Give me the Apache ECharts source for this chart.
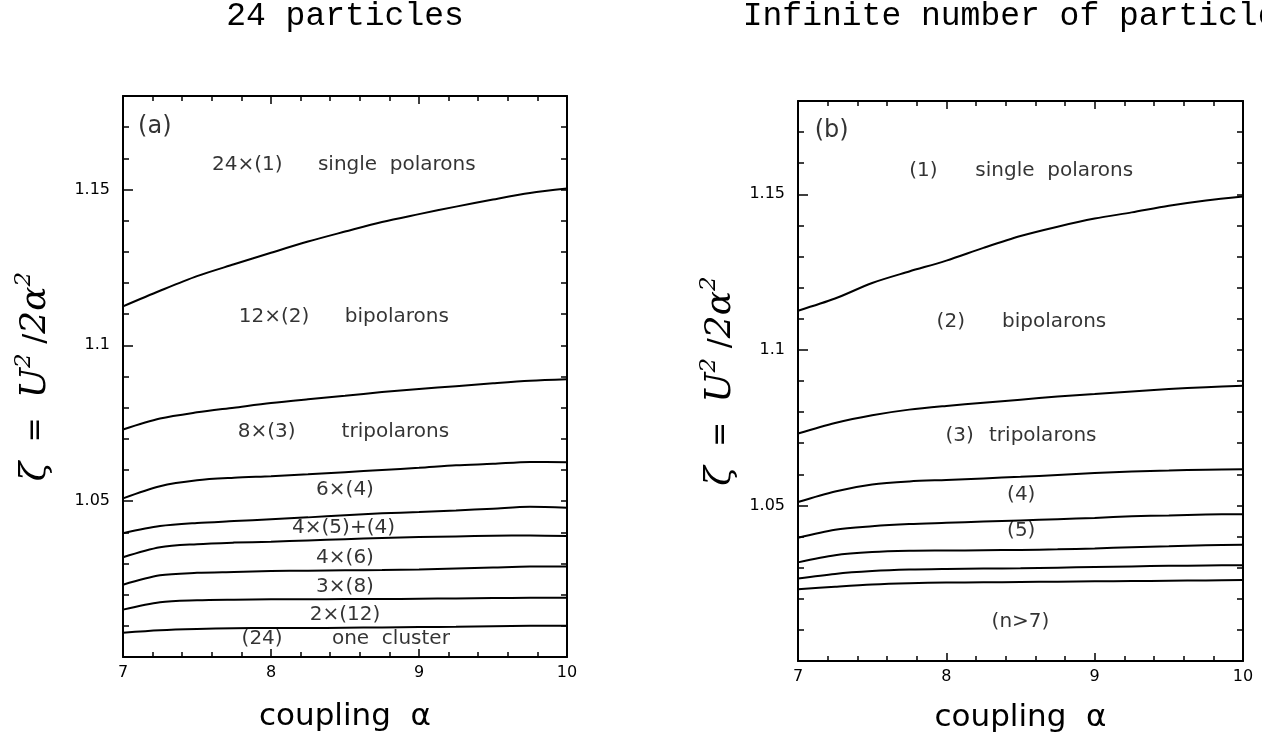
<!DOCTYPE html>
<html>
<head>
<meta charset="utf-8">
<title>polaron clusters</title>
<script src="https://cdn.jsdelivr.net/npm/echarts@6.0.0/dist/echarts.min.js"></script>
<style>
  html, body { margin: 0; padding: 0; background: #fff; }
  #main { width: 1262px; height: 742px; }
</style>
</head>
<body>
<div id="main"></div>
<script>
// coupling alpha, shared by every boundary curve
const alpha = [7, 7.25, 7.5, 7.75, 8, 8.25, 8.5, 8.75, 9, 9.25, 9.5, 9.75, 10];

// (a) 24 particles: phase boundaries, top to bottom
const a1 = [1.1125, 1.1175, 1.1222, 1.1260, 1.1297, 1.1333, 1.1365, 1.1396, 1.1421, 1.1445, 1.1468, 1.1489, 1.1503];
const a2 = [1.0730, 1.0765, 1.0785, 1.0800, 1.0815, 1.0827, 1.0838, 1.0850, 1.0860, 1.0869, 1.0878, 1.0886, 1.0891];
const a3 = [1.0509, 1.0548, 1.0567, 1.0575, 1.0580, 1.0586, 1.0593, 1.0600, 1.0607, 1.0615, 1.0620, 1.0626, 1.0625];
const a4 = [1.0397, 1.0420, 1.0430, 1.0436, 1.0442, 1.0448, 1.0455, 1.0461, 1.0465, 1.0470, 1.0476, 1.0482, 1.0479];
const a5 = [1.0320, 1.0352, 1.0362, 1.0367, 1.0370, 1.0374, 1.0378, 1.0382, 1.0385, 1.0387, 1.0389, 1.0390, 1.0388];
const a6 = [1.0232, 1.0262, 1.0270, 1.0273, 1.0276, 1.0277, 1.0278, 1.0279, 1.0281, 1.0284, 1.0287, 1.0290, 1.0290];
const a7 = [1.0152, 1.0176, 1.0182, 1.0184, 1.0185, 1.0185, 1.0186, 1.0186, 1.0187, 1.0188, 1.0189, 1.0190, 1.0190];
const a8 = [1.0078, 1.0086, 1.0090, 1.0092, 1.0093, 1.0093, 1.0094, 1.0095, 1.0096, 1.0097, 1.0099, 1.0100, 1.0100];

// (b) infinite number of particles
const b1 = [1.1126, 1.1165, 1.1215, 1.1252, 1.1287, 1.1328, 1.1366, 1.1396, 1.1422, 1.1442, 1.1463, 1.1480, 1.1493];
const b2 = [1.0731, 1.0765, 1.0790, 1.0808, 1.0820, 1.0830, 1.0840, 1.0850, 1.0858, 1.0866, 1.0874, 1.0880, 1.0885];
const b3 = [1.0511, 1.0545, 1.0567, 1.0577, 1.0582, 1.0587, 1.0592, 1.0598, 1.0604, 1.0609, 1.0612, 1.0615, 1.0616];
const b4 = [1.0396, 1.0422, 1.0433, 1.0440, 1.0444, 1.0448, 1.0452, 1.0456, 1.0460, 1.0465, 1.0468, 1.0471, 1.0472];
const b5 = [1.0317, 1.0340, 1.0350, 1.0354, 1.0355, 1.0356, 1.0357, 1.0359, 1.0362, 1.0366, 1.0369, 1.0372, 1.0374];
const b6 = [1.0265, 1.0280, 1.0289, 1.0294, 1.0296, 1.0297, 1.0298, 1.0300, 1.0302, 1.0304, 1.0306, 1.0307, 1.0308];
const b7 = [1.0231, 1.0239, 1.0246, 1.0250, 1.0252, 1.0253, 1.0254, 1.0255, 1.0256, 1.0257, 1.0258, 1.0259, 1.0260];

// region names: [text, alpha, zeta]
const labelsA = [
    ['(a)', 7.215, 1.170],
    ['24×(1)', 7.84, 1.1578], ['single  polarons', 8.85, 1.1578],
    ['12×(2)', 8.02, 1.1092], ['bipolarons', 8.85, 1.1092],
    ['8×(3)', 7.97, 1.0723], ['tripolarons', 8.84, 1.0723],
    ['6×(4)', 8.5, 1.0536],
    ['4×(5)+(4)', 8.49, 1.0413],
    ['4×(6)', 8.5, 1.0317],
    ['3×(8)', 8.5, 1.0226],
    ['2×(12)', 8.5, 1.0135],
    ['(24)', 7.94, 1.0060], ['one  cluster', 8.81, 1.0060]
];
const labelsB = [
    ['(b)', 7.227, 1.1704],
    ['(1)', 7.845, 1.1575], ['single  polarons', 8.727, 1.1575],
    ['(2)', 8.03, 1.1089], ['bipolarons', 8.727, 1.1089],
    ['(3)', 8.09, 1.0725], ['tripolarons', 8.65, 1.0725],
    ['(4)', 8.505, 1.0533],
    ['(5)', 8.505, 1.0420],
    ['(n>7)', 8.50, 1.0126]
];

const xTicks = [7, 8, 9, 10];
const yTicks = [1.05, 1.1, 1.15];
const titles = ['24 particles', 'Infinite number of particles'];

const chart = echarts.init(document.getElementById('main'));

const yName = '{i|ζ}{r|  =  }{i|U}{s|2}{r| /}{i|2α}{s|2}';
const yNameStyle = {
    fontFamily: 'DejaVu Serif',
    rich: {
        i: { fontFamily: 'DejaVu Serif', fontStyle: 'italic', fontSize: 36, lineHeight: 46, color: '#000' },
        r: { fontFamily: 'DejaVu Sans', fontSize: 30, lineHeight: 46, color: '#000' },
        s: { fontFamily: 'DejaVu Serif', fontStyle: 'italic', fontSize: 23, lineHeight: 26, verticalAlign: 'top', color: '#000' }
    }
};

const black = { color: '#000', width: 1.5 };

function xAx(grid, top) {
    return {
        type: 'value', gridIndex: grid, position: top ? 'top' : 'bottom',
        min: 7, max: 10, interval: 1,
        name: top ? '' : 'coupling  α',
        nameLocation: 'middle', nameGap: grid === 0 ? 44 : 41,
        nameTextStyle: { fontFamily: 'DejaVu Sans', fontSize: 31, color: '#000' },
        axisLine: { show: true, onZero: false, lineStyle: { color: '#000', width: 2 } },
        axisTick: { show: true, inside: true, length: 8, lineStyle: black },
        minorTick: { show: true, splitNumber: 5, length: 5, lineStyle: black },
        axisLabel: {
            show: !top, margin: 8, fontFamily: 'DejaVu Sans', fontSize: 16, color: '#000',
            formatter: v => xTicks.indexOf(v) >= 0 ? String(v) : ''
        },
        splitLine: { show: false }
    };
}

// kind: 'main' = labelled ticks every 0.05, 'minor' = short ticks every 0.01, 'right' = mirrored box side
function yAx(grid, kind) {
    const main = kind === 'main';
    return {
        type: 'value', gridIndex: grid, position: kind === 'right' ? 'right' : 'left',
        min: 1.0, max: 1.18, interval: main ? 0.05 : 0.01,
        name: main ? yName : '',
        nameLocation: 'middle', nameRotate: 90, nameGap: grid === 0 ? 64 : 54,
        nameTextStyle: yNameStyle,
        axisLine: { show: kind !== 'minor', onZero: false, lineStyle: { color: '#000', width: 2 } },
        axisTick: { show: true, inside: true, length: main ? 10 : 6, lineStyle: black },
        axisLabel: {
            show: main, margin: 13, fontFamily: 'DejaVu Sans', fontSize: 16, color: '#000',
            formatter: v => {
                const k = yTicks.find(t => Math.abs(t - v) < 1e-6);
                return k === undefined ? '' : String(k);
            }
        },
        splitLine: { show: false }
    };
}

function curve(grid, ys) {
    return {
        type: 'line', xAxisIndex: grid * 2, yAxisIndex: grid * 3,
        data: alpha.map((a, i) => [a, ys[i]]),
        showSymbol: false, symbol: 'none', smooth: 0.3,
        lineStyle: { color: '#000', width: 2 }, silent: true
    };
}

function names(grid, list) {
    return {
        type: 'scatter', xAxisIndex: grid * 2, yAxisIndex: grid * 3,
        symbolSize: 1, itemStyle: { color: 'rgba(0,0,0,0)' }, silent: true, z: 5,
        data: list.map((l, i) => ({
            value: [l[1], l[2], l[0]],
            label: { fontSize: i === 0 ? 24 : 20, color: '#000' }
        })),
        label: {
            show: true, position: 'inside', color: '#000',
            fontFamily: 'DejaVu Sans', fontSize: 20,
            formatter: p => p.data.value[2]
        }
    };
}

chart.setOption({
    animation: false,
    backgroundColor: '#fff',
    graphic: [
        { type: 'text', x: 345, y: 0, style: { text: titles[0], font: '33px "Liberation Mono"', align: 'center', verticalAlign: 'top', fill: '#000' } },
        { type: 'text', x: 1020, y: 0, style: { text: titles[1], font: '33px "Liberation Mono"', align: 'center', verticalAlign: 'top', fill: '#000' } }
    ],
    grid: [
        { left: 123, top: 96, width: 444, height: 561 },
        { left: 798, top: 101, width: 445, height: 560 }
    ],
    xAxis: [xAx(0, false), xAx(0, true), xAx(1, false), xAx(1, true)],
    yAxis: [
        yAx(0, 'main'), yAx(0, 'minor'), yAx(0, 'right'),
        yAx(1, 'main'), yAx(1, 'minor'), yAx(1, 'right')
    ],
    series: [
        curve(0, a1), curve(0, a2), curve(0, a3), curve(0, a4),
        curve(0, a5), curve(0, a6), curve(0, a7), curve(0, a8),
        curve(1, b1), curve(1, b2), curve(1, b3), curve(1, b4),
        curve(1, b5), curve(1, b6), curve(1, b7),
        names(0, labelsA), names(1, labelsB)
    ]
});
</script>
</body>
</html>
